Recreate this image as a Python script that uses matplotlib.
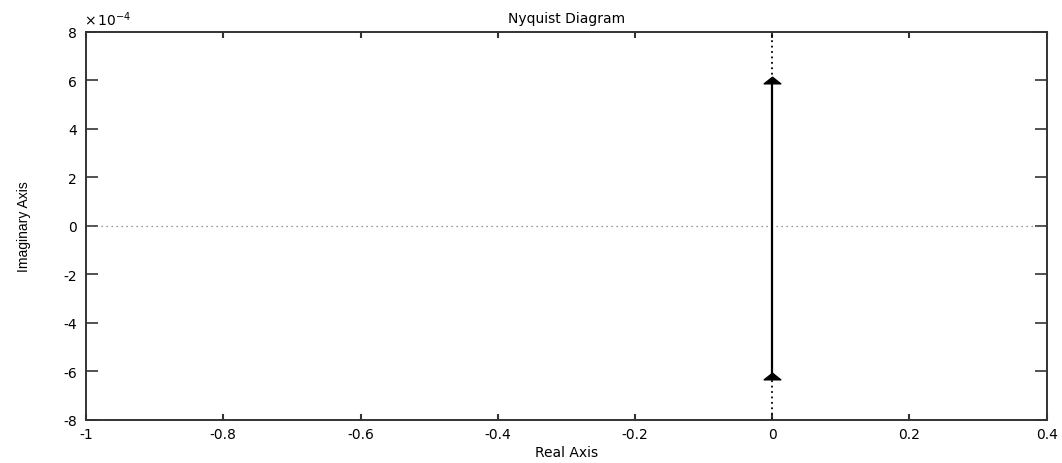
import matplotlib
matplotlib.use("Agg")
import matplotlib.pyplot as plt
from matplotlib.path import Path

plt.rcParams['font.family'] = ['DejaVu Sans']
plt.rcParams['mathtext.fontset'] = 'dejavusans'

# Data
solid_re = [0.0, 0.0]
solid_im = [-6.2e-4, 6.0e-4]
dot_top_re = [0.0, 0.0]
dot_top_im = [6.0e-4, 8.0e-4]
dot_bot_re = [0.0, 0.0]
dot_bot_im = [-8.0e-4, -6.2e-4]
zero_re = [-1.0, 0.4]
zero_im = [0.0, 0.0]
arrow_re = [0.0, 0.0]
arrow_im = [6.0e-4, -6.2e-4]

xticks = [-1, -0.8, -0.6, -0.4, -0.2, 0, 0.2, 0.4]
xticklabels = ['-1', '-0.8', '-0.6', '-0.4', '-0.2', '0', '0.2', '0.4']
yticks = [-8e-4, -6e-4, -4e-4, -2e-4, 0, 2e-4, 4e-4, 6e-4, 8e-4]
yticklabels = ['-8', '-6', '-4', '-2', '0', '2', '4', '6', '8']

fig = plt.figure(figsize=(10.62, 4.64), dpi=100)
ax = fig.add_axes([0.081, 0.0933, 0.9046, 0.8356])

# wide, flat arrow-head marker
arrow_marker = Path([(-1.0, -0.4), (1.0, -0.4), (0.0, 0.4), (-1.0, -0.4)],
                    [Path.MOVETO, Path.LINETO, Path.LINETO, Path.CLOSEPOLY])

ax.plot(zero_re, zero_im, linestyle=(0, (1, 3)), color='#777777', linewidth=0.9)
ax.plot(solid_re, solid_im, color='black', linewidth=1.6)
ax.plot(dot_top_re, dot_top_im, linestyle=(0, (1, 2)), color='black', linewidth=1.3)
ax.plot(dot_bot_re, dot_bot_im, linestyle=(0, (1, 2)), color='black', linewidth=1.3)
ax.plot(arrow_re, arrow_im, linestyle='none', marker=arrow_marker, color='black', markersize=12)

ax.set_xlim(-1, 0.4)
ax.set_ylim(-8e-4, 8e-4)
ax.set_xticks(xticks)
ax.set_xticklabels(xticklabels)
ax.set_yticks(yticks)
ax.set_yticklabels(yticklabels)
ax.tick_params(axis='x', direction='in', top=True, bottom=True, length=4.5, width=1.5,
               labelsize=10, colors='#333333', labelcolor='black', pad=5)
ax.tick_params(axis='y', direction='in', left=True, right=True, length=8.5, width=1.2,
               labelsize=10, colors='#333333', labelcolor='black', pad=6.5)
for s in ax.spines.values():
    s.set_color('#333333')
    s.set_linewidth(1.4)

ax.text(-0.002, 1.018, r'$\times\,10^{-4}$', transform=ax.transAxes, fontsize=10,
        ha='left', va='baseline')
ax.set_title('Nyquist Diagram', fontsize=10, y=1.037, va='center', pad=0)
ax.set_xlabel('Real Axis', fontsize=10)
ax.xaxis.set_label_coords(0.5, -0.066)
ax.set_ylabel('Imaginary Axis', fontsize=10, family=['Liberation Sans', 'DejaVu Sans'])
ax.yaxis.set_label_coords(-0.065, 0.5)
ax.yaxis.label.set_va('center')

fig.savefig('out.png', dpi=100)
